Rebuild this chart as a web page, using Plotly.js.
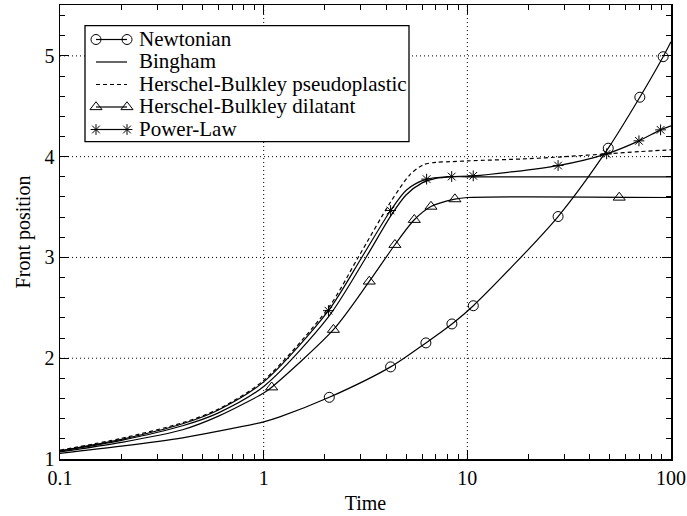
<!DOCTYPE html>
<html><head><meta charset="utf-8">
<script src="https://cdn.plot.ly/plotly-3.0.1.min.js"></script>
<style>html,body{margin:0;padding:0;background:#fff}#chart{width:687px;height:516px}</style>
</head><body><div id="chart"></div>
<script>
// ---------- data ----------
const seriesNames = ["Newtonian", "Bingham", "Herschel-Bulkley pseudoplastic", "Herschel-Bulkley dilatant", "Power-Law"];

const newtonLineT = [0.1, 0.2, 0.4, 0.6, 1, 1.2, 2.1, 4.2, 6.26, 8.4, 10.7, 27.9, 49.2, 70.3, 91.5, 100];
const newtonLineY = [1.055, 1.127, 1.21, 1.276, 1.369, 1.418, 1.612, 1.914, 2.152, 2.34, 2.521, 3.406, 4.084, 4.59, 4.992, 5.14];
const newtonMarkT = [2.1, 4.2, 6.26, 8.4, 10.7, 27.9, 49.2, 70.3, 91.5];
const newtonMarkY = [1.612, 1.914, 2.152, 2.34, 2.521, 3.406, 4.084, 4.59, 4.992];

const binghamT = [0.1, 0.2, 0.4, 0.6, 1, 2.08, 3.18, 4.2, 5.0, 6.0, 7.0, 8.4, 10, 100];
const binghamY = [1.078, 1.185, 1.33, 1.458, 1.72, 2.41, 3.0, 3.41, 3.62, 3.74, 3.785, 3.80, 3.80, 3.80];

const pseudoT = [0.1, 0.2, 0.4, 0.6, 1, 2.08, 2.91, 4.2, 5.22, 6.08, 7.06, 8.2, 10, 20, 30, 50, 70, 100];
const pseudoY = [1.088, 1.205, 1.36, 1.495, 1.78, 2.5, 3.0, 3.55, 3.82, 3.92, 3.945, 3.95, 3.958, 3.98, 4.0, 4.03, 4.05, 4.068];

const dilatLineT = [0.1, 0.2, 0.4, 0.6, 1, 1.095, 2.2, 3.3, 4.41, 5.49, 6.63, 8.69, 10, 100];
const dilatLineY = [1.07, 1.165, 1.29, 1.425, 1.655, 1.712, 2.283, 2.762, 3.126, 3.374, 3.505, 3.579, 3.595, 3.595];
const dilatMarkT = [1.095, 2.2, 3.3, 4.41, 5.49, 6.63, 8.69, 55.7];
const dilatMarkY = [1.712, 2.283, 2.762, 3.126, 3.374, 3.505, 3.579, 3.595];

const powerLineT = [0.1, 0.2, 0.4, 0.6, 1, 2.08, 3.03, 4.2, 5.03, 6.31, 8.38, 10.69, 27.9, 48.3, 69.6, 88.9, 100];
const powerLineY = [1.082, 1.195, 1.35, 1.487, 1.765, 2.472, 3.0, 3.466, 3.67, 3.777, 3.803, 3.81, 3.912, 4.028, 4.157, 4.266, 4.305];
const powerMarkT = [2.08, 4.2, 6.31, 8.38, 10.69, 27.9, 48.3, 69.6, 88.9];
const powerMarkY = [2.472, 3.466, 3.777, 3.803, 3.81, 3.912, 4.028, 4.157, 4.266];

const xTickVals = [0.1, 1, 10, 100];
const xTickText = ["0.1", "1", "10", "100"];
const yTickVals = [1, 2, 3, 4, 5];
const yTickText = ["1", "2", "3", "4", "5"];

// ---------- layout constants ----------
const W = 687, H = 516, ML = 60, MR = 16, MT = 5, MB = 57;
const X_RANGE = [-1, 2];          // log10 units
const Y_RANGE = [1, 5.505];
const FONT = "Liberation Serif, Times New Roman, serif";
const LW = 1.2;

const lineStyle = {color: "black", width: LW};
const dashStyle = {color: "black", width: LW, dash: "4px,3px"};
const mCircle = {symbol: "circle-open", size: 10, color: "black", line: {color: "black", width: 1}};
const mTri = {symbol: "triangle-up-open", size: 10.5, color: "black", line: {color: "black", width: 1}};
const mStar = {symbol: "asterisk-open", size: 9, color: "black", line: {color: "black", width: 1}};

const spline = {shape: "spline", smoothing: 0.8};

const traces = [
  {x: newtonLineT, y: newtonLineY, mode: "lines", line: Object.assign({}, lineStyle, spline), showlegend: false},
  {x: newtonMarkT, y: newtonMarkY, mode: "markers", marker: mCircle, showlegend: false},
  {x: binghamT, y: binghamY, mode: "lines", line: Object.assign({}, lineStyle, spline), showlegend: false},
  {x: pseudoT, y: pseudoY, mode: "lines", line: Object.assign({}, dashStyle, spline), showlegend: false},
  {x: dilatLineT, y: dilatLineY, mode: "lines", line: Object.assign({}, lineStyle, spline), showlegend: false},
  {x: dilatMarkT, y: dilatMarkY, mode: "markers", marker: mTri, showlegend: false},
  {x: powerLineT, y: powerLineY, mode: "lines", line: Object.assign({}, lineStyle, spline), showlegend: false},
  {x: powerMarkT, y: powerMarkY, mode: "markers", marker: mStar, showlegend: false}
];

// ---------- dotted grid (drawn as shapes so the legend box can hide it) ----------
const plotW = W - ML - MR, plotH = H - MT - MB;
const xPaper = v => (Math.log10(v) - X_RANGE[0]) / (X_RANGE[1] - X_RANGE[0]);
const yPaper = v => (v - Y_RANGE[0]) / (Y_RANGE[1] - Y_RANGE[0]);
const pxToPaperX = p => (p - ML) / plotW;
const pxToPaperY = p => (H - MB - p) / plotH;
const gridLine = {color: "black", width: 1, dash: "1px,3px"};
const shapes = [];
xTickVals.slice(1, -1).forEach(v => shapes.push({type: "line", xref: "paper", yref: "paper",
  x0: xPaper(v), x1: xPaper(v), y0: 0, y1: 1, line: gridLine, layer: "below"}));
yTickVals.slice(1).forEach(v => shapes.push({type: "line", xref: "paper", yref: "paper",
  x0: 0, x1: 1, y0: yPaper(v), y1: yPaper(v), line: gridLine, layer: "below"}));

// ---------- hand-built legend (gnuplot style) ----------
const legBox = {x0: 85, x1: 409, y0: 25.7, y1: 141.7};   // page pixels
shapes.push({type: "rect", xref: "paper", yref: "paper",
  x0: pxToPaperX(legBox.x0), x1: pxToPaperX(legBox.x1), y0: pxToPaperY(legBox.y1), y1: pxToPaperY(legBox.y0),
  fillcolor: "white", line: {color: "black", width: 1.3}, layer: "below"});

const legGlyphX = [96, 127];
const legRowY = [38.5, 61, 83.5, 106, 128.5];
const legTextX = 137;
const legLine = [lineStyle, lineStyle, dashStyle, lineStyle, lineStyle];
const legMarker = [mCircle, null, null, mTri, mStar];
const annotations = [];
seriesNames.forEach((name, i) => {
  const ty = legRowY[i];
  const tr = {x: legGlyphX, y: [ty + 1, ty + 1], xaxis: "x2", yaxis: "y2",
    mode: legMarker[i] ? "lines+markers" : "lines",
    line: legLine[i], showlegend: false};
  if (legMarker[i]) tr.marker = legMarker[i];
  traces.push(tr);
  annotations.push({xref: "x2", yref: "y2", x: legTextX, y: ty, xanchor: "left", yanchor: "middle",
    text: name, showarrow: false, font: {family: FONT, size: 21, color: "black"}});
});

const axisCommon = {
  showline: true, linecolor: "black", linewidth: 1.5, mirror: "allticks",
  ticks: "inside", ticklen: 9, tickwidth: 1, tickcolor: "black",
  showgrid: false, zeroline: false, layer: "above traces",
  tickfont: {family: FONT, size: 20, color: "black"}
};

const layout = {
  width: W, height: H,
  margin: {l: ML, r: MR, t: MT, b: MB},
  paper_bgcolor: "white", plot_bgcolor: "white",
  showlegend: false,
  font: {family: FONT, size: 20, color: "black"},
  xaxis: Object.assign({}, axisCommon, {
    type: "log", range: X_RANGE, tickmode: "array", tickvals: xTickVals, ticktext: xTickText,
    minor: {dtick: "D1", ticks: "inside", ticklen: 5, tickcolor: "black", tickwidth: 1, showgrid: false},
    title: {text: "Time", font: {family: FONT, size: 20, color: "black"}, standoff: 8}
  }),
  yaxis: Object.assign({}, axisCommon, {
    range: Y_RANGE, tickmode: "array", tickvals: yTickVals, ticktext: yTickText,
    minor: {dtick: 0.2, ticks: "inside", ticklen: 5, tickcolor: "black", tickwidth: 1, showgrid: false},
    title: {text: "Front position", font: {family: FONT, size: 20, color: "black"}, standoff: 8}
  }),
  xaxis2: {overlaying: "x", anchor: "y2", range: [ML, W - MR], visible: false, fixedrange: true},
  yaxis2: {overlaying: "y", anchor: "x2", range: [H - MB, MT], visible: false, fixedrange: true},
  shapes: shapes,
  annotations: annotations
};

Plotly.newPlot("chart", traces, layout, {displayModeBar: false, staticPlot: true});
</script></body></html>
